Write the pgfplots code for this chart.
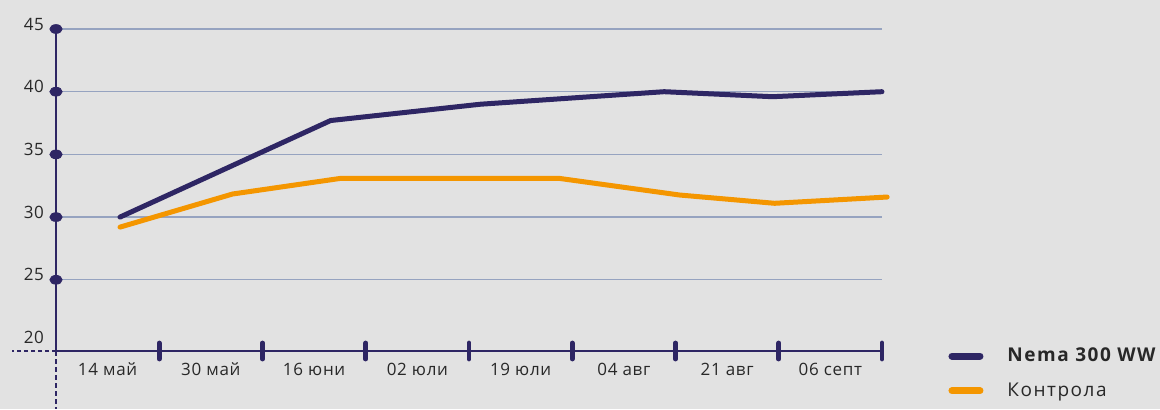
\documentclass[border=0pt]{standalone}
\usepackage{fontspec}
\setmainfont{Open Sans}[LetterSpace=4]
\usepackage{pgfplots}
\pgfplotsset{compat=1.18}
\definecolor{navy}{RGB}{46,38,100}
\definecolor{orng}{RGB}{244,150,0}
\definecolor{gridc}{RGB}{150,163,192}
\definecolor{bg}{RGB}{226,226,226}
\definecolor{txt}{RGB}{40,40,40}
\begin{document}
\begin{tikzpicture}
\fill[bg] (0,0) rectangle (580pt,204.5pt);
\useasboundingbox (0,0) rectangle (580pt,204.5pt);
\begin{axis}[
  at={(28pt,29pt)}, anchor=south west,
  scale only axis, width=413pt, height=161pt,
  xmin=0, xmax=8, ymin=19.32, ymax=45,
  clip=false,
  axis x line=bottom, axis y line=left,
  axis line style={-, draw=navy, line width=1.4pt},
  /pgf/number format/assume math mode=true,
  tick label style={font=\fontsize{8.5}{10}\selectfont, text=txt},
  xtick={0.5,1.5,...,7.5},
  xticklabels={14 май,30 май,16 юни,02 юли,19 юли,04 авг,21 авг,06 септ},
  major tick length=0pt,
  xticklabel style={anchor=center, yshift=-9pt},
  extra x ticks={1,2,...,8},
  extra x tick labels={},
  extra x tick style={major tick length=8pt, tick align=center,
     tick style={navy, line width=2.4pt, line cap=round}},
  ytick={25,30,...,45},
  ymajorgrids,
  grid style={gridc, line width=0.7pt},
  extra y ticks={20},
  extra y tick style={grid=none},
  yticklabel style={anchor=east, xshift=-2.5pt, yshift=2.5pt},
  legend style={draw=none, fill=none, at={(axis description cs:1.08,0.024)}, anchor=north west,
     font=\fontsize{9.5}{11}\selectfont\addfontfeature{LetterSpace=8}, text=txt, row sep=5pt, inner sep=0pt},
  legend cell align=left,
  legend image code/.code={\draw[#1, line width=3.5pt, line cap=round] (0pt,0pt) -- (14pt,0pt);
     \path (24.5pt,0pt);},
]
\addplot[navy, line width=2.5pt, line join=round, line cap=round]
  coordinates {(0.62,30.0)(2.66,37.7)(4.11,39.0)(5.89,40.0)(6.94,39.6)(8.0,40.0)};
\addlegendentry{\textbf{Nema 300 WW}}
\addplot[orng, line width=2.5pt, line join=round, line cap=round]
  coordinates {(0.62,29.2)(1.71,31.84)(2.75,33.08)(4.88,33.08)(6.04,31.76)(6.96,31.1)(8.05,31.6)};
\addlegendentry{Контрола}
\addplot[only marks, mark=*, mark size=2.2pt, mark options={navy, xscale=1.4}, forget plot]
  coordinates {(0,25)(0,30)(0,35)(0,40)(0,45)};
\draw[navy, line width=1.1pt, dash pattern=on 2pt off 1.5pt] (rel axis cs:0,0) -- ++(-22pt,0pt);
\draw[navy, line width=1.1pt, dash pattern=on 2.5pt off 1.5pt] (rel axis cs:0,0) -- ++(0pt,-29pt);
\end{axis}
\end{tikzpicture}
\end{document}
